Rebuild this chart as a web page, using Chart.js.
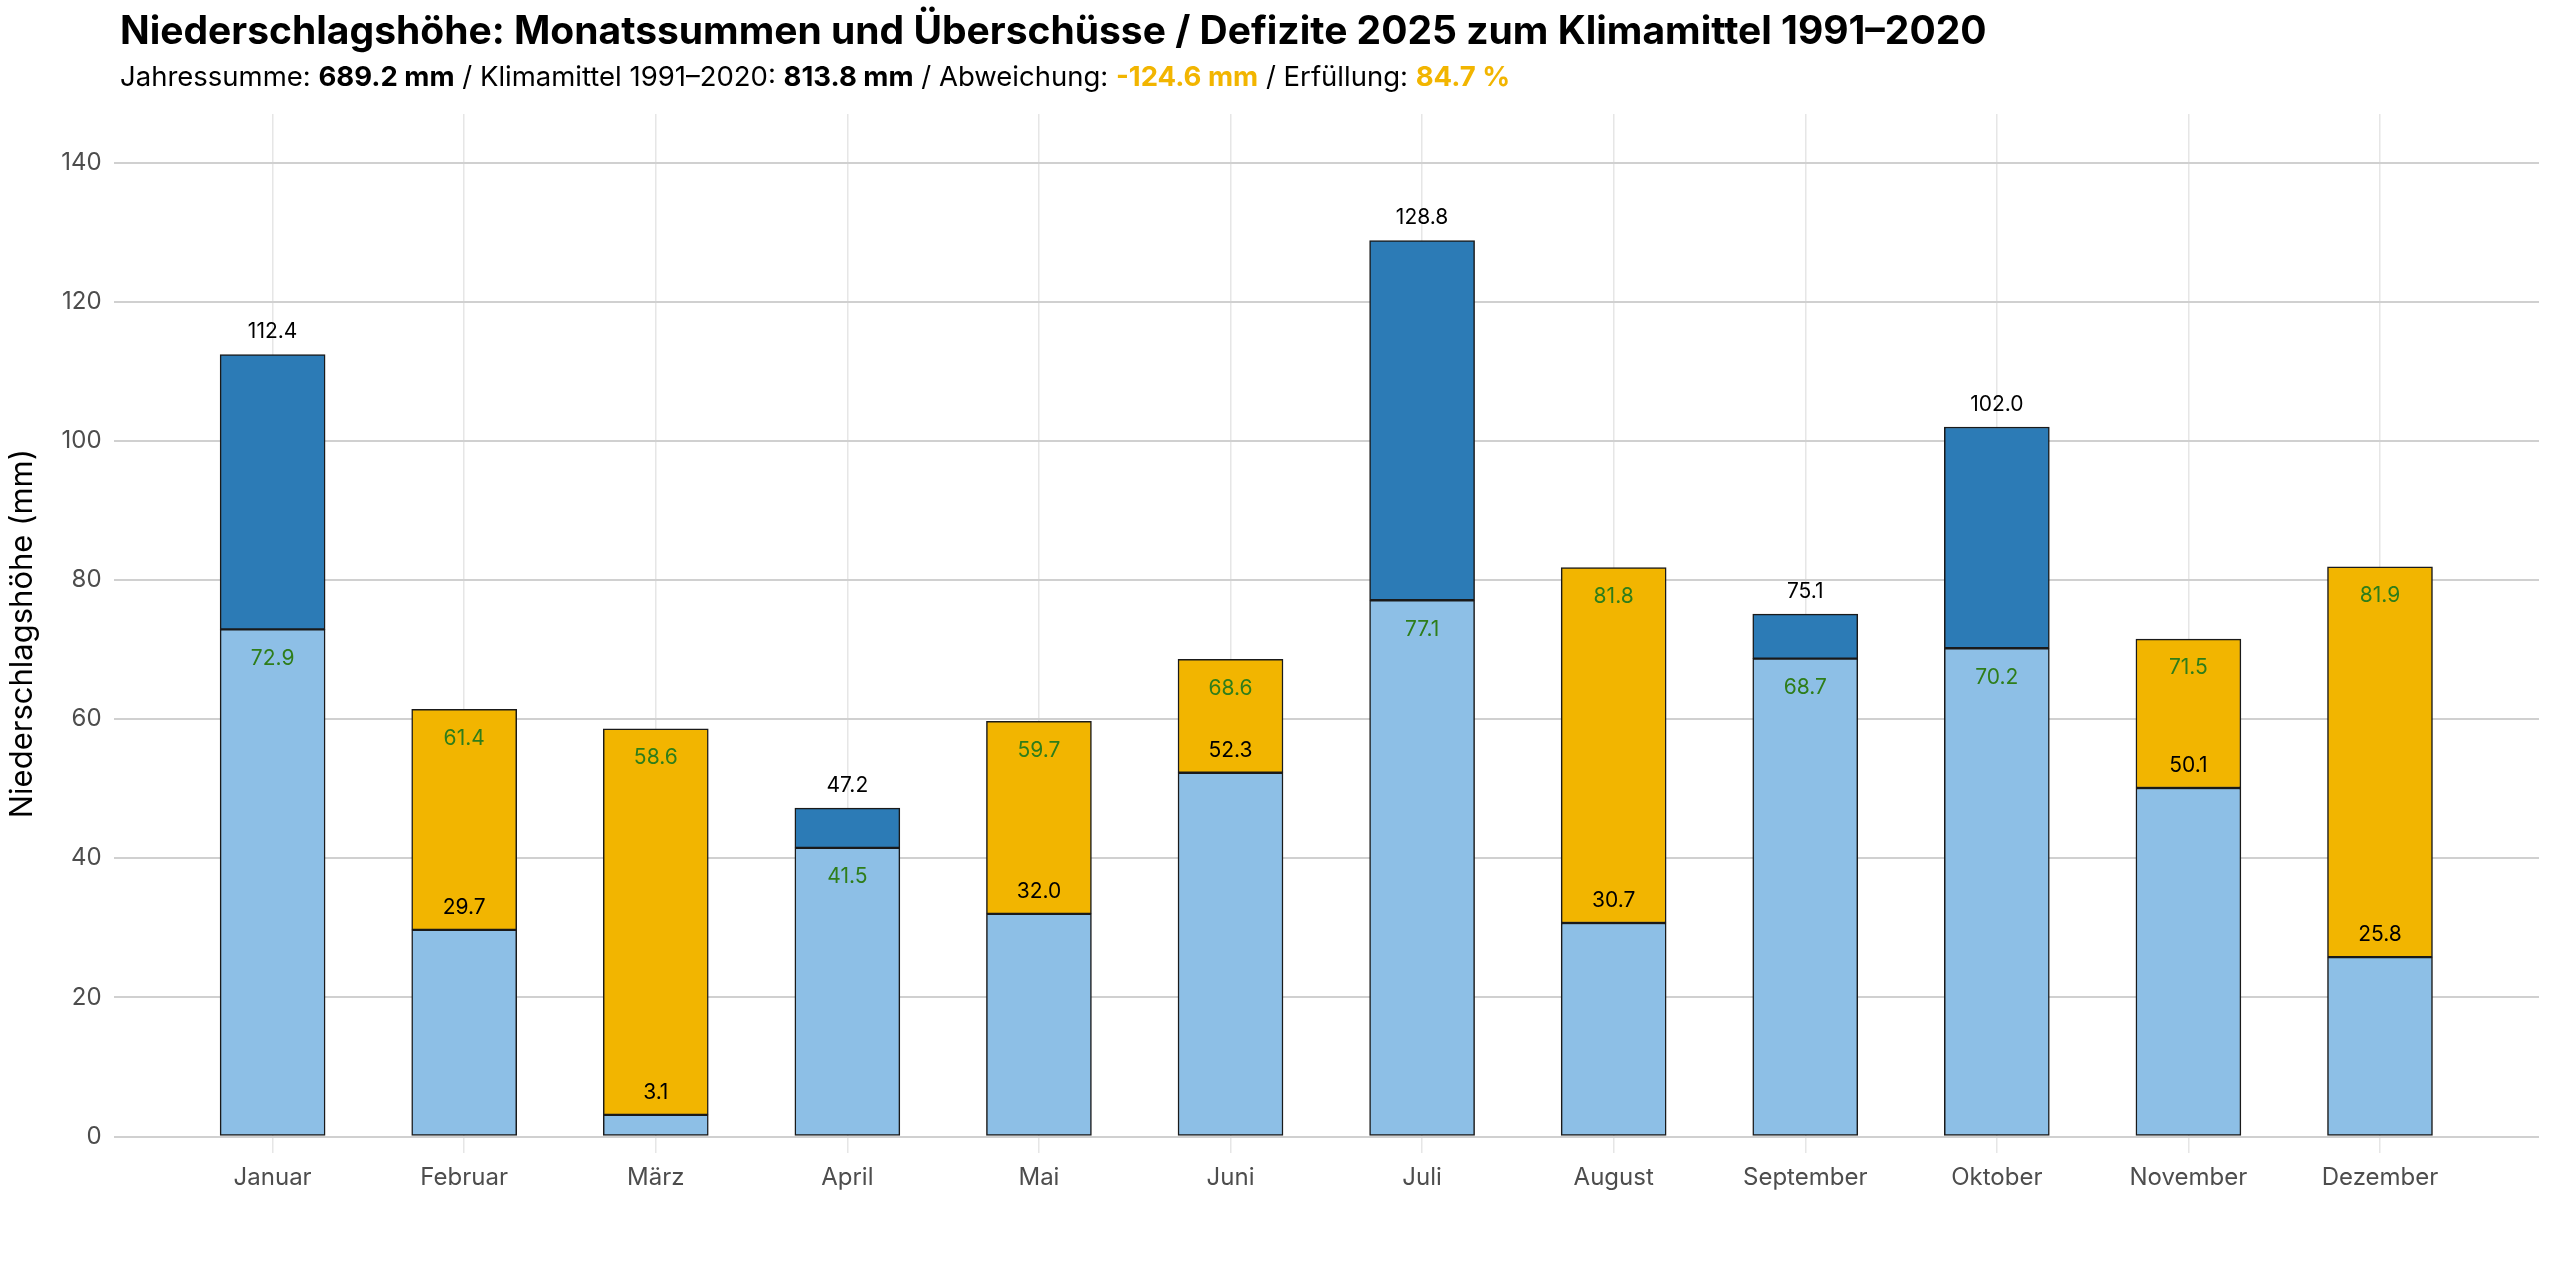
<!DOCTYPE html>
<html>
<head>
<meta charset="utf-8">
<script src="https://cdn.jsdelivr.net/npm/chart.js@4/dist/chart.umd.min.js"></script>
<style>
  html, body { margin: 0; padding: 0; background: #fff; }
  body { width: 2560px; height: 1280px; position: relative; font-family: Inter, "Noto Sans", sans-serif; }
  #head { position: absolute; left: 120px; top: 6px; }
  #head h1 { margin: 0; font-size: 39px; font-weight: 700; color: #000; }
  #head p { margin: 6px 0 0 0; font-size: 27.5px; color: #000; }
  .y { color: #f2b500; font-weight: 700; }
  #wrap { position: absolute; left: 0; top: 0; width: 2560px; height: 1280px; }
</style>
</head>
<body>
<div id="wrap"><canvas id="chart"></canvas></div>
<div id="head">
  <h1>Niederschlagshöhe: Monatssummen und Überschüsse / Defizite 2025 zum Klimamittel 1991–2020</h1>
  <p>Jahressumme: <b>689.2 mm</b> / Klimamittel 1991–2020: <b>813.8 mm</b> / Abweichung: <span class="y">-124.6 mm</span> / Erfüllung: <span class="y">84.7 %</span></p>
</div>
<script>
const months = ['Januar', 'Februar', 'März', 'April', 'Mai', 'Juni', 'Juli', 'August', 'September', 'Oktober', 'November', 'Dezember'];
const actual = [112.4, 29.7, 3.1, 47.2, 32.0, 52.3, 128.8, 30.7, 75.1, 102.0, 50.1, 25.8];
const climate = [72.9, 61.4, 58.6, 41.5, 59.7, 68.6, 77.1, 81.8, 68.7, 70.2, 71.5, 81.9];
const yTicks = [0, 20, 40, 60, 80, 100, 120, 140];

const base = actual.map((a, i) => ({ x: i + 1, y: Math.min(a, climate[i]) }));
const surplus = actual.map((a, i) => ({ x: i + 1, y: a > climate[i] ? a - climate[i] : 0 }));
const deficit = actual.map((a, i) => ({ x: i + 1, y: a < climate[i] ? climate[i] - a : 0 }));

const FONT = 'Inter, "Noto Sans", sans-serif';

const barLabels = {
    id: 'barLabels',
    afterDatasetsDraw(chart) {
        const ctx = chart.ctx;
        const y = chart.scales.y;
        const x = chart.scales.x;
        ctx.save();
        ctx.font = '21px ' + FONT;
        ctx.textAlign = 'center';
        months.forEach((m, i) => {
            const cx = x.getPixelForValue(i + 1);
            // actual value above its bar top
            ctx.fillStyle = '#000';
            ctx.textBaseline = 'bottom';
            ctx.fillText(actual[i].toFixed(1), cx, y.getPixelForValue(actual[i]) - 12);
            // climate mean just below the mean line
            ctx.fillStyle = '#2e7d1a';
            ctx.textBaseline = 'middle';
            ctx.fillText(climate[i].toFixed(1), cx, y.getPixelForValue(climate[i]) + 29);
        });
        ctx.restore();
    }
};

const common = { borderColor: '#1a1a1a', borderWidth: 1.5, borderSkipped: false, barThickness: 105 };

new Chart(document.getElementById('chart'), {
    type: 'bar',
    data: {
        datasets: [
            { ...common, data: base, backgroundColor: '#8dbfe6' },
            { ...common, data: surplus, backgroundColor: '#2c7bb6' },
            { ...common, data: deficit, backgroundColor: '#f2b500' }
        ]
    },
    options: {
        responsive: true,
        maintainAspectRatio: false,
        animation: false,
        layout: { padding: { top: 114, right: 21, bottom: 78, left: 0 } },
        plugins: { legend: { display: false }, tooltip: { enabled: false } },
        scales: {
            x: {
                type: 'linear',
                stacked: true,
                offset: false,
                min: 0.17,
                max: 12.83,
                afterBuildTicks: (s) => { s.ticks = months.map((m, i) => ({ value: i + 1 })); },
                ticks: { callback: (v) => months[v - 1], color: '#4d4d4d', font: { size: 24, family: FONT }, padding: 10 },
                grid: { color: '#e6e6e6', lineWidth: 1.5, drawTicks: false, offset: false },
                border: { display: false }
            },
            y: {
                stacked: true,
                min: -2.4,
                max: 147,
                afterBuildTicks: (s) => { s.ticks = yTicks.map(v => ({ value: v })); },
                ticks: { color: '#4d4d4d', font: { size: 24, family: FONT }, padding: 12 },
                grid: { color: '#d0d0d0', lineWidth: 2, drawTicks: false },
                border: { display: false },
                title: { display: true, text: 'Niederschlagshöhe (mm)', color: '#000', font: { size: 31, family: FONT }, padding: { bottom: 8 } }
            }
        }
    },
    plugins: [barLabels]
});
</script>
</body>
</html>
